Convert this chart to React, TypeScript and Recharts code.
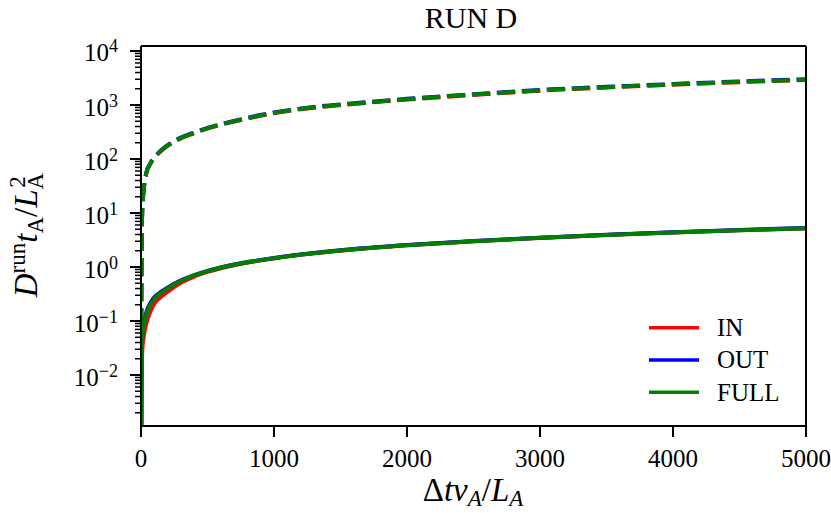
import React from 'react';
import { LineChart, Line, XAxis, YAxis, Legend, ReferenceLine } from 'recharts';

const times = [2, 5, 10, 20, 40, 70, 100, 150, 200, 300, 400, 500, 700, 1000, 1300, 1600, 2000, 2500, 3000, 3500, 4000, 4500, 5000];

const inSolid = [0.0004, 0.008, 0.03, 0.05, 0.09, 0.15, 0.21, 0.28, 0.35, 0.51, 0.665, 0.81, 1.08, 1.44, 1.79, 2.12, 2.52, 2.99, 3.46, 3.92, 4.36, 4.79, 5.18];
const outSolid = [0.0006, 0.02, 0.06, 0.085, 0.145, 0.215, 0.275, 0.345, 0.415, 0.565, 0.71, 0.85, 1.11, 1.47, 1.82, 2.15, 2.55, 3.02, 3.5, 3.96, 4.41, 4.85, 5.3];
const fullSolid = [0.0005, 0.015, 0.05, 0.075, 0.13, 0.2, 0.26, 0.33, 0.4, 0.555, 0.7, 0.84, 1.1, 1.46, 1.8, 2.13, 2.53, 3.0, 3.47, 3.93, 4.37, 4.8, 5.22];

const inDashed = [0.08, 3, 12, 25.6, 54.2, 80.8, 103.4, 139.9, 175.3, 241.3, 300.4, 366.4, 492.5, 704.3, 891.4, 1044, 1261, 1537, 1842, 2108, 2374, 2650, 2906];
const outDashed = [0.08, 3, 12, 26.4, 55.8, 83.2, 106.6, 144.1, 180.7, 248.7, 309.6, 377.6, 507.5, 725.7, 918.6, 1076, 1299, 1583, 1898, 2172, 2446, 2730, 2994];
const fullDashed = [0.08, 3, 12, 26, 55, 82, 105, 142, 178, 245, 305, 372, 500, 715, 905, 1060, 1280, 1560, 1870, 2140, 2410, 2690, 2950];

const seriesNames = ['IN', 'OUT', 'FULL'];
const seriesColors = ['#ff0000', '#0000ff', '#008000'];

const xTicks = [0, 1000, 2000, 3000, 4000, 5000];
const yMajorTicks = [0.01, 0.1, 1, 10, 100, 1000, 10000];
const yMinorMultipliers = [2, 3, 4, 5, 6, 7, 8, 9];
const yMinorDecades = [0.001, 0.01, 0.1, 1, 10, 100, 1000];
const yDomain = [0.001138, 12375];
const xDomain = [0, 5000];

const data = times.map((t, i) => ({
  t,
  inS: inSolid[i],
  outS: outSolid[i],
  fullS: fullSolid[i],
  inD: inDashed[i],
  outD: outDashed[i],
  fullD: fullDashed[i],
}));

const yMinorTicks = yMinorDecades
  .flatMap((d) => yMinorMultipliers.map((m) => m * d))
  .filter((v) => v >= yDomain[0] && v <= yDomain[1]);
const yTicks = [...yMajorTicks, ...yMinorTicks].sort((a, b) => a - b);
const majorSet = new Set(yMajorTicks);

const FONT = '"Liberation Serif", "Times New Roman", serif';

const renderXTick = (props: any) => {
  const { x, y, payload } = props;
  return (
    <g>
      <line x1={x} x2={x} y1={y} y2={y + 11} stroke="#000" strokeWidth={2} />
      <text x={x} y={y + 41} textAnchor="middle" fontFamily={FONT} fontSize={25} fill="#000">
        {payload.value}
      </text>
    </g>
  );
};

const renderYTick = (props: any) => {
  const { x, y, payload } = props;
  const v = payload.value;
  const isMajor = majorSet.has(v);
  const exp = Math.round(Math.log10(v));
  const expStr = exp < 0 ? '\u2212' + Math.abs(exp) : String(exp);
  return (
    <g>
      <line x1={x - (isMajor ? 11 : 6)} x2={x} y1={y} y2={y} stroke="#000" strokeWidth={isMajor ? 2 : 1.5} />
      {isMajor && (
        <text x={x - 23} y={y + 10.5} textAnchor="end" fontFamily={FONT} fontSize={25} fill="#000">
          <tspan>10</tspan>
          <tspan fontSize={18} dy={-9}>{expStr}</tspan>
        </text>
      )}
    </g>
  );
};

const xLabel = () => (
  <text x={473} y={501} textAnchor="middle" fontFamily={FONT} fontSize={33} fill="#000">
    <tspan>Δ</tspan>
    <tspan fontStyle="italic">tv</tspan>
    <tspan fontStyle="italic" fontSize={23} dy={5}>A</tspan>
    <tspan dy={-5}>/</tspan>
    <tspan fontStyle="italic">L</tspan>
    <tspan fontStyle="italic" fontSize={23} dy={5}>A</tspan>
  </text>
);

const yLabel = () => (
  <text
    x={37}
    y={235}
    transform="rotate(-90 37 235)"
    textAnchor="middle"
    fontFamily={FONT}
    fontSize={33}
    fill="#000"
  >
    <tspan fontStyle="italic">D</tspan>
    <tspan fontSize={23} dy={-12}>run</tspan>
    <tspan fontStyle="italic" dy={12}>t</tspan>
    <tspan fontSize={23} dy={6}>A</tspan>
    <tspan dy={-6}>/</tspan>
    <tspan fontStyle="italic">L</tspan>
    <tspan fontSize={23} dy={6}>A</tspan>
    <tspan fontSize={23} dx={-15} dy={-18}>2</tspan>
  </text>
);

const titleLabel = () => (
  <text x={471} y={28} textAnchor="middle" fontFamily={FONT} fontSize={30} fill="#000">
    RUN D
  </text>
);

const renderLegend = (props: any) => {
  const items = (props.payload || [])
    .filter((p: any) => p.type !== 'none' && seriesNames.includes(p.value))
    .sort((a: any, b: any) => seriesNames.indexOf(a.value) - seriesNames.indexOf(b.value));
  return (
    <svg width={200} height={110} style={{ display: 'block' }}>
      {items.map((p: any, i: number) => (
        <g key={p.value}>
          <line x1={9} x2={59} y1={17.7 + i * 32.3} y2={17.7 + i * 32.3} stroke={p.color} strokeWidth={3.5} />
          <text x={77} y={26 + i * 32.3} fontFamily={FONT} fontSize={25} fill="#000">
            {p.value}
          </text>
        </g>
      ))}
    </svg>
  );
};

const solidKeys = ['inS', 'outS', 'fullS'];
const dashedKeys = ['inD', 'outD', 'fullD'];

export default function App() {
  return (
    <div style={{ position: 'absolute', left: 0, top: 0, width: 831, height: 513, background: '#fff' }}>
      <LineChart width={831} height={513} data={data} margin={{ top: 46, right: 25, bottom: 0, left: 0 }}>
        <XAxis
          dataKey="t"
          type="number"
          domain={xDomain}
          ticks={xTicks}
          interval={0}
          tick={renderXTick}
          tickLine={false}
          tickSize={0}
          tickMargin={0}
          height={87}
          allowDataOverflow
          axisLine={{ stroke: '#000', strokeWidth: 2 }}
          label={xLabel}
        />
        <YAxis
          type="number"
          scale="log"
          domain={yDomain}
          allowDataOverflow
          ticks={yTicks}
          interval={0}
          tick={renderYTick}
          tickLine={false}
          tickSize={0}
          tickMargin={0}
          width={141}
          axisLine={{ stroke: '#000', strokeWidth: 2 }}
          label={yLabel}
        />
        {seriesNames.map((n, i) => (
          <Line
            key={'s' + n}
            dataKey={solidKeys[i]}
            name={n}
            type="monotone"
            stroke={seriesColors[i]}
            strokeWidth={4}
            dot={false}
            activeDot={false}
            isAnimationActive={false}
          />
        ))}
        {seriesNames.map((n, i) => (
          <Line
            key={'d' + n}
            dataKey={dashedKeys[i]}
            name={n + ' dashed'}
            legendType="none"
            type="monotone"
            stroke={seriesColors[i]}
            strokeWidth={4}
            strokeDasharray="18 7"
            dot={false}
            activeDot={false}
            isAnimationActive={false}
          />
        ))}
        <ReferenceLine y={yDomain[1]} stroke="#000" strokeWidth={2} label={titleLabel} />
        <ReferenceLine x={xDomain[1]} stroke="#000" strokeWidth={2} />
        <Legend
          layout="vertical"
          align="center"
          verticalAlign="middle"
          content={renderLegend}
          wrapperStyle={{ position: 'absolute', left: 640, top: 310, width: 200, height: 110 }}
        />
      </LineChart>
    </div>
  );
}
